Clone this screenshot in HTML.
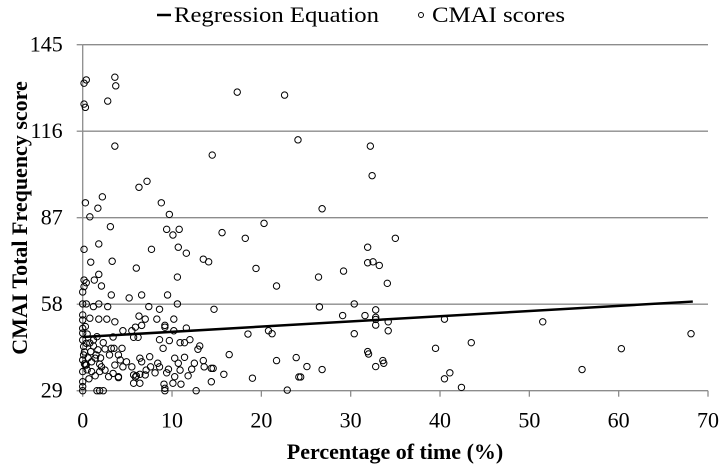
<!DOCTYPE html>
<html><head><meta charset="utf-8"><style>
html,body{margin:0;padding:0;background:#fff;}
svg{display:block;font-family:"Liberation Serif",serif;}
</style></head><body>
<svg id="chart" width="720" height="464" viewBox="0 0 720 464">
<g id="grid"></g>
<g id="axes"></g>
<g id="pts"></g>
<g id="reg"></g>
<g>
<line x1="157" y1="15" x2="171" y2="15" stroke="#000" stroke-width="2.5"/>
<text x="174" y="22" font-size="22" textLength="205" lengthAdjust="spacingAndGlyphs">Regression Equation</text>
<circle cx="421" cy="15" r="2.5" fill="none" stroke="#000" stroke-width="1"/>
<text x="432" y="22" font-size="22" textLength="133" lengthAdjust="spacingAndGlyphs">CMAI scores</text>
</g>
<text x="395" y="459" text-anchor="middle" font-size="22" font-weight="bold">Percentage of time (%)</text>
<text transform="translate(27,218) rotate(-90)" text-anchor="middle" font-size="22" font-weight="bold">CMAI Total Frequency score</text>
</svg>
<script>
const xTicks=[0,10,20,30,40,50,60,70];
const yTicks=[29,58,87,116,145];
const regIntercept=47.0;
const regSlope=0.174;
const regRange=[0,68.3];
const ptX=[0.15,0.4,3.6,3.7,0.15,0.3,2.8,17.3,3.6,14.5,6.3,7.2,2.2,0.3,1.7,0.8,8.8,9.7,3.1,9.4,10.8,10.1,15.6,18.2,1.8,10.7,0.15,7.7,
22.6,24.1,32.2,32.4,26.8,20.3,35.0,31.9,31.9,32.5,33.2,19.4,29.2,26.4,21.7,34.1,
11.6,0.9,3.3,6.0,13.5,14.1,0.15,1.3,1.8,0.4,0.15,2.1,10.6,0,3.2,5.2,6.6,9.5,0,0.4,1.8,1.2,2.8,7.4,8.6,10.6,14.7,
0.8,1.8,2.7,3.6,6.3,7.0,6.6,8.3,9.2,9.2,10.2,11.6,10.2,4.5,5.5,5.7,6.2,5.9,8.6,9.7,12.0,10.9,11.4,13.1,12.9,9.0,18.5,16.4,3.4,3.2,3.5,4.4,4.0,3.0,2.3,1.7,1.6,1.2,0.4,0.9,0.1,
0,0,0,0,0,0.1,0,0.3,0,0,0,0,0.4,1.0,1.4,1.4,1.0,1.9,2.1,1.9,2.5,2.9,3.4,4.0,3.6,4.5,4.2,4.9,5.5,6.4,6.6,7.5,7.6,8.4,8.6,9.6,10.7,10.3,11.4,12.5,13.5,13.6,14.4,14.6,12.2,11.8,10.9,10.3,9.4,8.1,7.1,
6.4,5.7,6.0,5.9,6.4,5.7,7.0,4.0,1.6,1.9,2.3,9.1,9.2,9.2,10.1,11.0,12.7,14.4,15.8,19.0,
0.3,0.5,0.8,0.2,0.6,0.2,0.5,1.2,0.7,1.5,2.5,2.0,
26.5,30.4,29.1,31.6,32.8,32.8,32.8,32.8,34.2,34.2,30.4,40.5,51.5,68.1,20.8,21.2,43.5,39.5,60.3,31.9,32.0,21.7,23.9,33.6,33.7,25.1,26.8,32.8,55.9,41.1,40.5,24.2,24.4,22.9,42.4];
const ptY=[132.1,133.2,134.1,131.2,125.1,124.0,126.1,129.1,111.0,108.0,97.2,99.2,94.0,92.0,90.2,87.3,92.0,88.1,84.0,83.1,83.1,81.2,82.0,80.1,78.2,77.1,76.4,76.4,
128.1,113.1,111.0,101.1,90.0,85.1,80.1,77.1,71.9,72.2,71.0,70.0,69.1,67.1,64.1,65.0,
75.1,72.1,72.4,70.1,73.1,72.2,66.1,66.1,68.0,65.2,63.9,64.1,67.1,62.1,61.1,60.1,61.1,61.1,58.1,58.1,58.1,57.2,57.2,57.2,56.3,58.1,56.3,
53.3,53.0,53.0,52.1,54.0,53.0,50.9,53.0,50.9,50.3,53.0,50.0,49.1,49.1,49.1,46.9,46.9,50.3,46.1,45.8,46.1,45.1,45.1,44.0,42.9,43.2,48.0,41.1,47.0,43.2,43.2,43.2,41.0,41.0,45.1,42.7,47.1,46.0,44.9,42.1,43.8,
46.0,48.3,49.9,52.7,54.4,41.0,39.3,37.6,35.4,32.0,30.4,29.0,37.6,38.7,39.9,34.0,35.4,37.9,37.0,35.4,35.9,33.7,34.8,33.7,37.6,37.0,39.3,38.7,37.0,39.9,38.7,40.4,37.0,38.2,37.0,36.2,38.2,39.9,40.2,38.2,39.1,37.0,36.5,36.5,36.2,34.0,35.9,33.7,35.0,35.0,35.9,
34.5,34.3,34.0,33.6,31.5,31.5,34.3,33.4,29.0,29.0,29.0,31.2,29.8,29.0,31.5,31.2,29.0,32.0,34.5,33.2,
50.5,48.0,45.0,42.0,40.0,38.0,36.0,44.0,33.0,41.0,43.0,40.0,
57.1,58.1,54.2,54.2,56.1,53.6,52.9,51.0,52.1,49.1,48.1,53.0,52.1,48.1,49.1,48.1,45.1,43.2,43.1,42.1,41.3,39.1,40.1,39.1,38.2,37.1,36.1,37.1,36.1,35.0,33.0,33.6,33.6,29.2,30.1];

const NS='http://www.w3.org/2000/svg';
const L=82.7,R=708,T=44.7,B=390.7,xMin=0,xMax=70,yMin=29,yMax=145;
function sx(v){return L+(v-xMin)/(xMax-xMin)*(R-L);}
function sy(v){return B-(v-yMin)/(yMax-yMin)*(B-T);}
function mk(tag,attrs,parent){const e=document.createElementNS(NS,tag);for(const k in attrs)e.setAttribute(k,attrs[k]);parent.appendChild(e);return e;}
const grid=document.getElementById('grid'),axes=document.getElementById('axes'),pts=document.getElementById('pts'),reg=document.getElementById('reg');
yTicks.forEach(v=>{
  if(v!==yMin){const g=mk('line',{x1:L,x2:R,y1:sy(v),y2:sy(v),stroke:'#8c8c8c','stroke-width':1.3},grid);
  
  }
  const tk=mk('line',{x1:L-6,x2:L,y1:sy(v),y2:sy(v),stroke:'#8c8c8c','stroke-width':1.3},axes);
  
  
  const t=mk('text',{x:L-20,y:sy(v)+7,'text-anchor':'end','font-size':22},axes);
  t.textContent=v;
  
  
});
const ya=mk('line',{x1:L,x2:L,y1:T,y2:B,stroke:'#8c8c8c','stroke-width':1.3},axes);


const xa=mk('line',{x1:L-6,x2:R,y1:B,y2:B,stroke:'#8c8c8c','stroke-width':1.3},axes);


xTicks.forEach(v=>{
  const tk=mk('line',{x1:sx(v),x2:sx(v),y1:B,y2:B+6,stroke:'#8c8c8c','stroke-width':1.3},axes);
  
  
  const t=mk('text',{x:sx(v),y:B+37,'text-anchor':'middle','font-size':22},axes);
  t.textContent=v;
  
  
});
for(let i=0;i<ptX.length;i++){
  const c=mk('circle',{cx:sx(ptX[i]),cy:sy(ptY[i]),r:3.2,fill:'none',stroke:'#000','stroke-width':1},pts);
  
  
}
const rl=mk('line',{x1:sx(regRange[0]),y1:sy(regIntercept+regSlope*regRange[0]),x2:sx(regRange[1]),y2:sy(regIntercept+regSlope*regRange[1]),stroke:'#000','stroke-width':2.5},reg);


</script>
</body></html>
